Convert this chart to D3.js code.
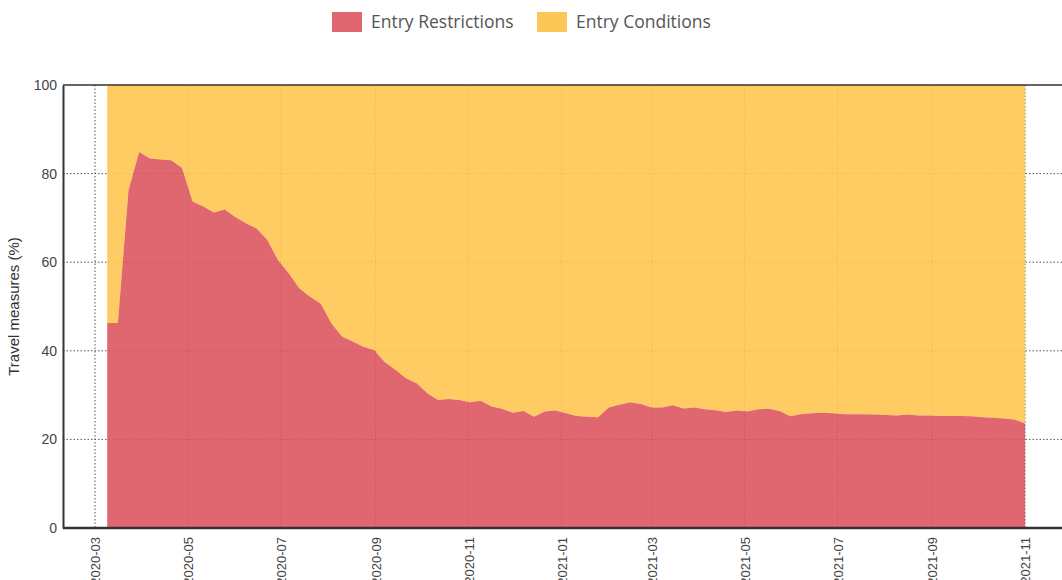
<!DOCTYPE html>
<html>
<head>
<meta charset="utf-8">
<script src="https://cdn.jsdelivr.net/npm/d3@7"></script>
<style>
  body { margin: 0; background: #fff; }
  svg { display: block; }
</style>
</head>
<body>
<div id="chart"></div>
<script>
// Data (weekly share of travel measures, %)
//------------------------------------------
var startDate = "2020-03-09";
var stepDays = 7;
var restrictions = [
  46.3, 46.3, 76.3, 84.9, 83.4, 83.2, 83.0, 81.3, 73.7, 72.6,
  71.2, 71.9, 70.2, 68.8, 67.6, 65.0, 60.5, 57.5, 54.1, 52.2,
  50.7, 46.2, 43.2, 42.1, 40.9, 40.2, 37.5, 35.7, 33.8, 32.7,
  30.4, 28.9, 29.1, 28.9, 28.4, 28.7, 27.4, 26.9, 26.0, 26.4,
  25.1, 26.3, 26.5, 25.9, 25.3, 25.1, 25.0, 27.2, 27.8, 28.4,
  28.0, 27.2, 27.2, 27.7, 27.0, 27.2, 26.8, 26.6, 26.2, 26.5,
  26.3, 26.8, 26.9, 26.4, 25.2, 25.7, 25.9, 26.0, 25.9, 25.7,
  25.7, 25.7, 25.6, 25.5, 25.4, 25.6, 25.4, 25.4, 25.3, 25.3,
  25.3, 25.2, 25.0, 24.9, 24.7, 24.5, 23.6
];
var yTicks = [0, 20, 40, 60, 80, 100];
var legendLabels = ["Entry Restrictions", "Entry Conditions"];

// Sizing
//-------
var svgWidth = 1062;
var svgHeight = 580;
var plot = { left: 63, right: 1062, top: 85, bottom: 528 };

var colors = { restrictions: "#dd5760", conditions: "#fec651" };

var svg = d3.select("#chart")
  .append("svg")
  .attr("width", svgWidth)
  .attr("height", svgHeight);

var parse = d3.utcParse("%Y-%m-%d");
var start = parse(startDate);
var data = restrictions.map(function(v, i) {
  return { date: d3.utcDay.offset(start, i * stepDays), value: v };
});

// Scales
//-------
var xScale = d3.scaleUtc()
  .domain([parse("2020-03-01"), parse("2021-11-01")])
  .range([95, 1025]);

var yScale = d3.scaleLinear()
  .domain([0, 100])
  .range([plot.bottom, plot.top]);

var xTicks = d3.utcMonth.every(2).range(parse("2020-03-01"), parse("2021-11-02"));

// Grid (behind areas)
//--------------------
var grid = svg.append("g").attr("stroke", "#555").attr("stroke-dasharray", "1.5,2");
grid.selectAll("line.v")
  .data(xTicks)
  .enter().append("line")
  .attr("x1", d => xScale(d)).attr("x2", d => xScale(d))
  .attr("y1", plot.top).attr("y2", plot.bottom);
grid.selectAll("line.h")
  .data(yTicks.filter(d => d > 0 && d < 100))
  .enter().append("line")
  .attr("x1", plot.left).attr("x2", plot.right)
  .attr("y1", d => yScale(d)).attr("y2", d => yScale(d));

// Areas
//------
var redArea = d3.area()
  .x(d => xScale(d.date))
  .y0(yScale(0))
  .y1(d => yScale(d.value));

var yellowArea = d3.area()
  .x(d => xScale(d.date))
  .y0(d => yScale(d.value))
  .y1(yScale(100));

svg.append("path")
  .datum(data)
  .attr("d", yellowArea)
  .attr("fill", colors.conditions)
  .attr("fill-opacity", 0.9);

svg.append("path")
  .datum(data)
  .attr("d", redArea)
  .attr("fill", colors.restrictions)
  .attr("fill-opacity", 0.9);

// Frame
//------
svg.append("line")
  .attr("x1", plot.left).attr("x2", plot.right)
  .attr("y1", plot.top).attr("y2", plot.top)
  .attr("stroke", "#333").attr("stroke-width", 1.5);

// Axes
//-----
var leftAxis = d3.axisLeft(yScale).tickValues(yTicks).tickSize(0).tickPadding(6);
var yAxis = svg.append("g")
  .attr("transform", `translate(${plot.left},0)`)
  .call(leftAxis);
yAxis.select(".domain").attr("stroke", "#333").attr("stroke-width", 2);
yAxis.selectAll("text")
  .attr("font-family", "Liberation Sans, Arial, sans-serif")
  .attr("font-size", 14)
  .attr("fill", "#444");

var bottomAxis = d3.axisBottom(xScale)
  .tickValues(xTicks)
  .tickFormat(d3.utcFormat("%Y-%m"))
  .tickSize(0);
var xAxis = svg.append("g")
  .attr("transform", `translate(0,${plot.bottom})`)
  .call(bottomAxis);
xAxis.select(".domain")
  .attr("d", `M${plot.left},0H${plot.right}`)
  .attr("stroke", "#333").attr("stroke-width", 2.5);
xAxis.selectAll("text")
  .attr("font-family", "Liberation Sans, Arial, sans-serif")
  .attr("font-size", 13)
  .attr("fill", "#444")
  .attr("text-anchor", "end")
  .attr("transform", "rotate(-90)")
  .attr("x", -9)
  .attr("y", 0)
  .attr("dy", "0.35em");

// Y axis title
svg.append("text")
  .attr("transform", `translate(19,${(plot.top + plot.bottom) / 2}) rotate(-90)`)
  .attr("text-anchor", "middle")
  .attr("font-family", "Liberation Sans, Arial, sans-serif")
  .attr("font-size", 15)
  .attr("fill", "#333")
  .text("Travel measures (%)");

// Legend
//-------
var legend = svg.append("g");
var legendItems = [
  { label: legendLabels[0], color: "#e0666f", x: 332 },
  { label: legendLabels[1], color: "#fdc758", x: 537 }
];
legendItems.forEach(function(item) {
  legend.append("rect")
    .attr("x", item.x).attr("y", 12)
    .attr("width", 30).attr("height", 20)
    .attr("fill", item.color);
  legend.append("text")
    .attr("x", item.x + 39).attr("y", 28)
    .attr("font-family", "Open Sans, sans-serif")
    .attr("font-size", 17.5)
    .attr("fill", "#555")
    .text(item.label);
});
</script>
</body>
</html>
